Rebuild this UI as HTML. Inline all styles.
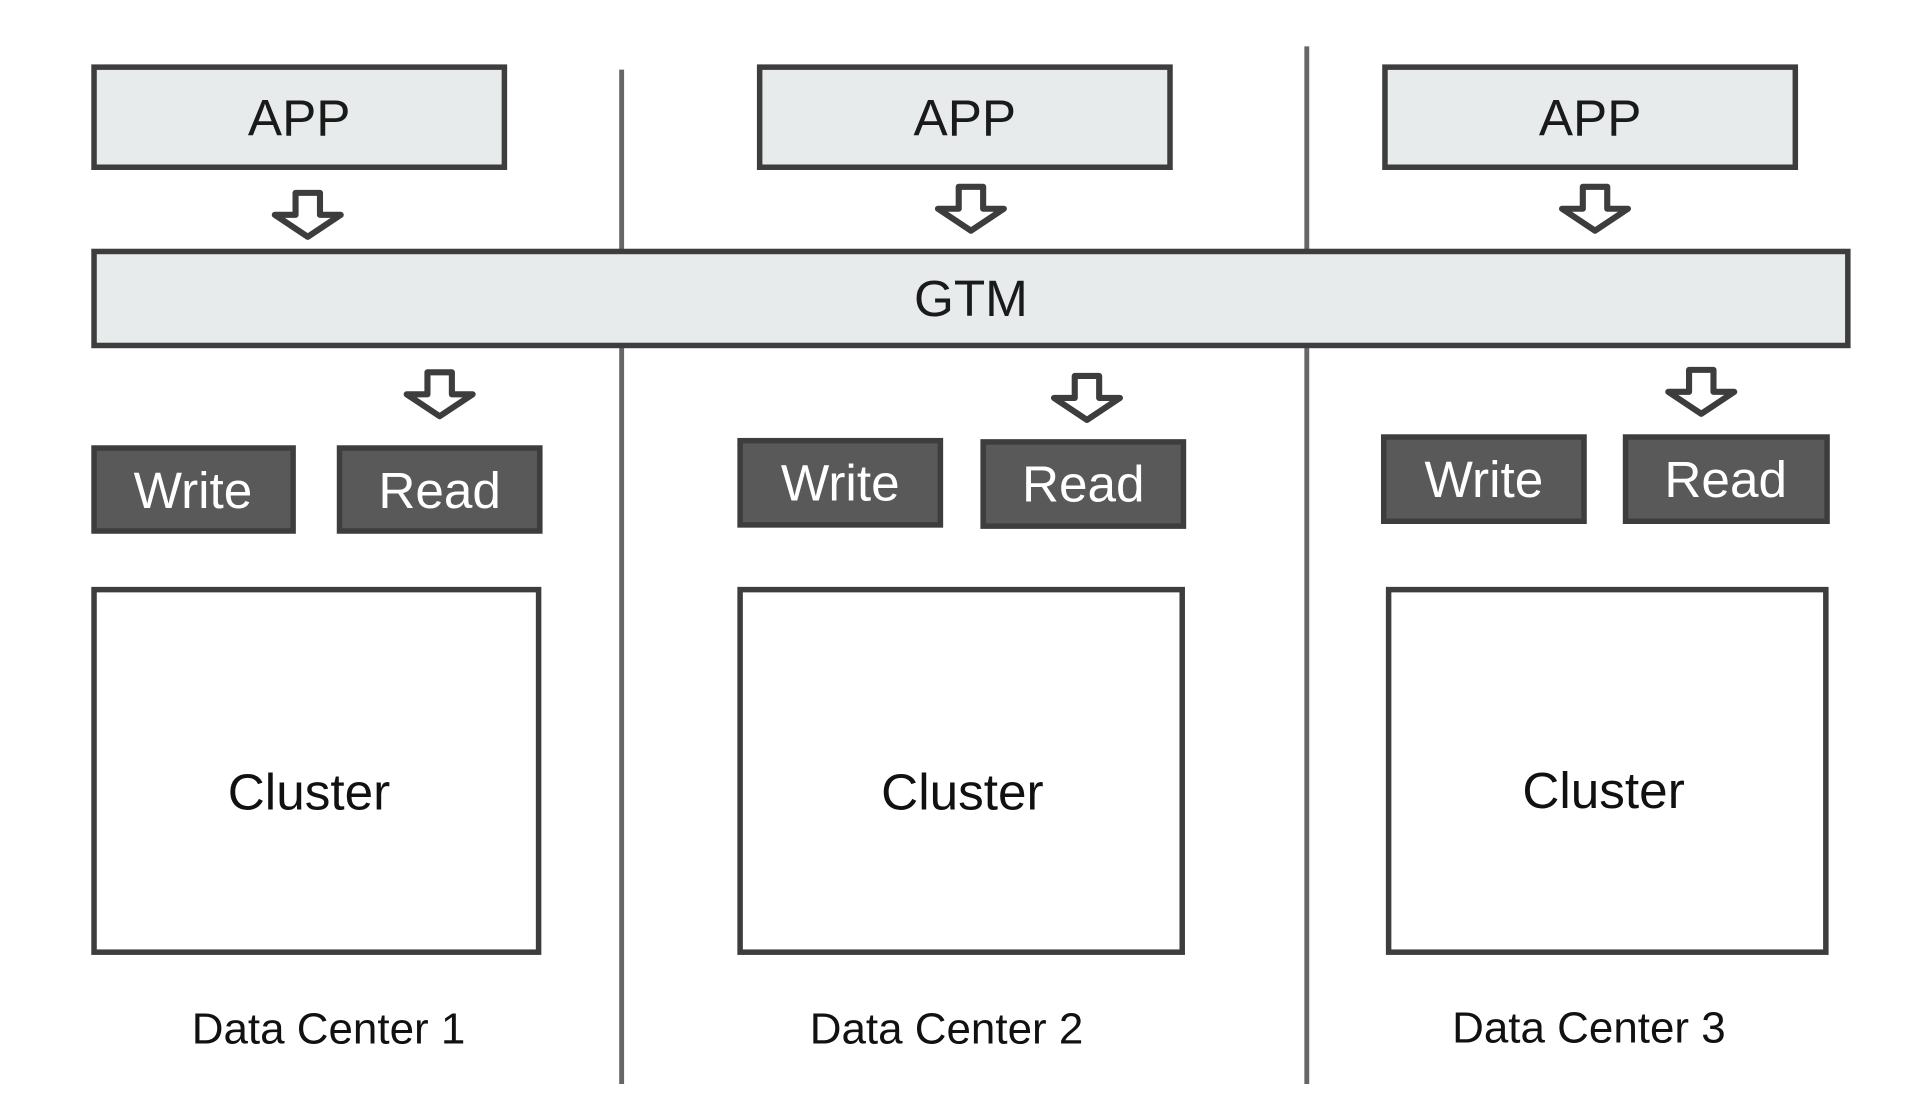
<!DOCTYPE html>
<html><head><meta charset="utf-8"><style>html,body{margin:0;padding:0;background:#fff;}svg{display:block}</style></head>
<body>
<svg width="1915" height="1095" viewBox="0 0 1568 897" preserveAspectRatio="none" xmlns="http://www.w3.org/2000/svg" font-family="Liberation Sans, sans-serif">
<defs>
<path id="arr" d="M-10,0 L10,0 L10,18 L27,18 L0,36 L-27,18 L-10,18 Z" fill="#fff" stroke="#3d3d3d" stroke-width="5" stroke-linejoin="round"/>
</defs>
<line x1="509" y1="57" x2="509" y2="888" stroke="#666" stroke-width="4"/>
<line x1="1070" y1="38" x2="1070" y2="888" stroke="#666" stroke-width="4"/>
<g stroke="#3d3d3d" stroke-width="4.5" fill="#e8ebec">
<rect x="77" y="55" width="336" height="82"/>
<rect x="622" y="55" width="336" height="82"/>
<rect x="1134" y="55" width="336" height="82"/>
<rect x="77" y="206" width="1436" height="77"/>
</g>
<g font-size="42" fill="#1a1a1a" text-anchor="middle">
<text x="245" y="111">APP</text>
<text x="790" y="111">APP</text>
<text x="1302" y="111">APP</text>
<text x="795" y="259">GTM</text>
</g>
<use href="#arr" x="252" y="158"/>
<use href="#arr" x="795" y="153"/>
<use href="#arr" x="1306" y="153"/>
<use href="#arr" x="360" y="305"/>
<use href="#arr" x="890" y="308"/>
<use href="#arr" x="1393" y="303"/>
<g stroke="#3d3d3d" stroke-width="4.5" fill="#595959">
<rect x="77" y="367" width="163" height="68"/>
<rect x="278" y="367" width="164" height="68"/>
<rect x="606" y="361" width="164" height="69"/>
<rect x="805" y="362" width="164" height="69"/>
<rect x="1133" y="358" width="164" height="69"/>
<rect x="1331" y="358" width="165" height="69"/>
</g>
<g font-size="42" fill="#fff" text-anchor="middle">
<text x="158" y="416">Write</text>
<text x="360" y="416">Read</text>
<text x="688" y="410">Write</text>
<text x="887" y="411">Read</text>
<text x="1215" y="407">Write</text>
<text x="1413" y="407">Read</text>
</g>
<g stroke="#3d3d3d" stroke-width="4.5" fill="#fff">
<rect x="77" y="483" width="364" height="297"/>
<rect x="606" y="483" width="362" height="297"/>
<rect x="1137" y="483" width="358" height="297"/>
</g>
<g font-size="42" fill="#111" text-anchor="middle">
<text x="253" y="663">Cluster</text>
<text x="788" y="663">Cluster</text>
<text x="1313" y="662">Cluster</text>
</g>
<g font-size="36" fill="#111" text-anchor="middle">
<text x="269" y="855">Data Center 1</text>
<text x="775" y="855">Data Center 2</text>
<text x="1301" y="854">Data Center 3</text>
</g>
</svg>
</body></html>
